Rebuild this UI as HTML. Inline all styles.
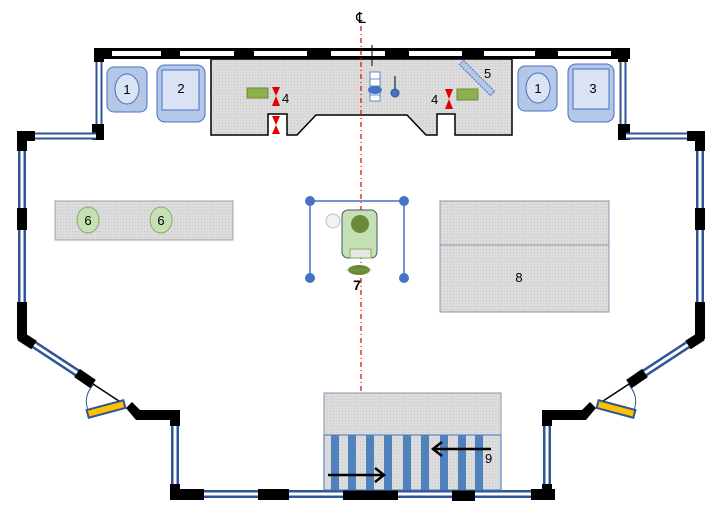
<!DOCTYPE html>
<html><head><meta charset="utf-8"><style>html,body{margin:0;padding:0;background:#fff}svg{display:block}</style></head>
<body>
<svg width="720" height="516" viewBox="0 0 720 516" xmlns="http://www.w3.org/2000/svg" font-family="Liberation Sans, sans-serif">
<defs>
<pattern id="dot" width="3" height="3" patternUnits="userSpaceOnUse"><rect width="3" height="3" fill="#dcdcdc"/><rect width="1" height="1" fill="#c8c8c8"/></pattern>
<g id="side">
  <!-- top-left vertical window -->
  <line x1="99" y1="52" x2="99" y2="132" stroke="#2f5597" stroke-width="7"/>
  <line x1="99" y1="52" x2="99" y2="132" stroke="#fff" stroke-width="3"/>
  <rect x="94" y="48" width="10" height="14" fill="#000"/>
  <rect x="92" y="124" width="12" height="16" fill="#000"/>
  <!-- horizontal window -->
  <line x1="22" y1="136" x2="96" y2="136" stroke="#2f5597" stroke-width="7"/>
  <line x1="22" y1="136" x2="96" y2="136" stroke="#fff" stroke-width="3"/>
  <rect x="17" y="131" width="18" height="10" fill="#000"/>
  <!-- left vertical window -->
  <line x1="22" y1="136" x2="22" y2="338" stroke="#2f5597" stroke-width="8"/>
  <line x1="22" y1="136" x2="22" y2="338" stroke="#fff" stroke-width="3"/>
  <rect x="17" y="131" width="10" height="20" fill="#000"/>
  <rect x="17" y="208" width="10" height="22" fill="#000"/>
  <rect x="17" y="302" width="10" height="37" fill="#000"/>
  <!-- diagonal window -->
  <line x1="24" y1="338" x2="88" y2="380" stroke="#2f5597" stroke-width="8"/>
  <line x1="24" y1="338" x2="88" y2="380" stroke="#fff" stroke-width="3"/>
  <line x1="20" y1="336" x2="34" y2="345" stroke="#000" stroke-width="10"/>
  <line x1="77" y1="373" x2="93" y2="384" stroke="#000" stroke-width="10"/>
  <!-- door -->
  <line x1="93" y1="384" x2="125" y2="405" stroke="#000" stroke-width="1.5"/>
  <path d="M93 385 Q82 398 89 412" fill="none" stroke="#2f5597" stroke-width="1"/>
  <g transform="translate(106 409) rotate(-15)"><rect x="-19" y="-4" width="38" height="8" fill="#ffc000" stroke="#2f5597" stroke-width="2"/></g>
  <path d="M126 408 L132 402 L140 410 L178 410 L178 420 L136 420 Z" fill="#000"/>
  <!-- lower vertical window -->
  <line x1="175" y1="415" x2="175" y2="494" stroke="#2f5597" stroke-width="8"/>
  <line x1="175" y1="415" x2="175" y2="494" stroke="#fff" stroke-width="3"/>
  <rect x="170" y="410" width="10" height="16" fill="#000"/>
  <rect x="170" y="484" width="10" height="16" fill="#000"/>
</g>
</defs>

<!-- top wall -->
<rect x="94" y="48" width="536" height="11" fill="#000"/>
<g fill="#fff">
<rect x="112" y="51" width="49" height="5"/><rect x="180" y="51" width="54" height="5"/>
<rect x="254" y="51" width="53" height="5"/><rect x="331" y="51" width="54" height="5"/>
<rect x="409" y="51" width="53" height="5"/><rect x="484" y="51" width="51" height="5"/>
<rect x="558" y="51" width="53" height="5"/>
</g>
<use href="#side"/>
<use href="#side" transform="translate(722 0) scale(-1 1)"/>

<!-- bottom wall -->
<line x1="178" y1="494" x2="552" y2="494" stroke="#2f5597" stroke-width="8"/>
<line x1="178" y1="494" x2="552" y2="494" stroke="#fff" stroke-width="3"/>
<g fill="#000">
<rect x="170" y="489" width="34" height="11"/><rect x="258" y="489" width="31" height="11"/>
<rect x="343" y="489" width="55" height="11"/><rect x="452" y="489" width="23" height="12"/>
<rect x="531" y="489" width="24" height="11"/>
</g>

<!-- console -->
<path d="M211 59 L512 59 L512 135 L455 135 L455 114 L437 114 L437 135 L426 135 L407 115 L316 115 L297 135 L287 135 L287 114 L268 114 L268 135 L211 135 Z" fill="url(#dot)" stroke="#000" stroke-width="1.5"/>
<!-- left boxes -->
<rect x="107" y="67" width="40" height="45" rx="7" fill="#b4c7e7" stroke="#4472c4" stroke-width="1"/>
<ellipse cx="127" cy="89" rx="12" ry="15" fill="#dae3f3" stroke="#4472c4" stroke-width="1"/>
<text x="127" y="94" font-size="13" text-anchor="middle">1</text>
<rect x="157" y="65" width="48" height="57" rx="8" fill="#b4c7e7" stroke="#4472c4"/>
<rect x="162" y="70" width="37" height="40" fill="#dae3f3" stroke="#4472c4"/>
<text x="181" y="93" font-size="13" text-anchor="middle">2</text>
<rect x="518" y="66" width="39" height="45" rx="7" fill="#b4c7e7" stroke="#4472c4"/>
<ellipse cx="538" cy="88" rx="12" ry="15" fill="#dae3f3" stroke="#4472c4"/>
<text x="538" y="93" font-size="13" text-anchor="middle">1</text>
<rect x="568" y="64" width="46" height="58" rx="8" fill="#b4c7e7" stroke="#4472c4"/>
<rect x="573" y="69" width="36" height="40" fill="#dae3f3" stroke="#4472c4"/>
<text x="593" y="93" font-size="13" text-anchor="middle">3</text>
<!-- 4s -->
<rect x="247" y="88" width="21" height="10" fill="#8db04c" stroke="#6a8a3a"/>
<path d="M272 87 L280 87 L276 96 L280 106 L272 106 L276 96 Z" fill="#e00000"/>
<path d="M272 116 L280 116 L276 125 L280 134 L272 134 L276 125 Z" fill="#e00000"/>
<text x="282" y="103" font-size="13">4</text>
<rect x="457" y="89" width="21" height="11" fill="#8db04c" stroke="#6a8a3a"/>
<path d="M445 89 L453 89 L449 99 L453 109 L445 109 L449 99 Z" fill="#e00000"/>
<text x="431" y="104" font-size="13">4</text>
<!-- 5 -->
<g transform="translate(477 78) rotate(45)"><rect x="-22" y="-3" width="44" height="6" fill="#b4c7e7" stroke="#4472c4" stroke-dasharray="2 1"/></g>
<text x="484" y="78" font-size="13">5</text>
<!-- centre line -->
<line x1="361" y1="26" x2="361" y2="393" stroke="#e00000" stroke-width="1.2" stroke-dasharray="5 3 1 3"/>
<text x="361" y="23" font-size="15" text-anchor="middle">℄</text>
<line x1="372" y1="45" x2="372" y2="66" stroke="#000" stroke-width="1"/>
<rect x="370" y="72" width="10" height="29" fill="#fff" stroke="#4472c4" stroke-width="0.8"/>
<line x1="370" y1="79" x2="380" y2="79" stroke="#4472c4" stroke-width="0.8"/><line x1="370" y1="86" x2="380" y2="86" stroke="#4472c4" stroke-width="0.8"/><line x1="370" y1="95" x2="380" y2="95" stroke="#4472c4" stroke-width="0.8"/>
<ellipse cx="375" cy="90" rx="7" ry="4" fill="#4472c4"/>
<line x1="395" y1="76" x2="395" y2="90" stroke="#000"/>
<circle cx="395" cy="93" r="4" fill="#4472c4" stroke="#2f5597"/>

<!-- 6 -->
<rect x="55" y="201" width="178" height="39" fill="url(#dot)" stroke="#a0a0a0"/>
<ellipse cx="88" cy="220" rx="11" ry="13" fill="#c5e0b4" stroke="#8aa86a"/>
<text x="88" y="225" font-size="13" text-anchor="middle">6</text>
<ellipse cx="161" cy="220" rx="11" ry="13" fill="#c5e0b4" stroke="#8aa86a"/>
<text x="161" y="225" font-size="13" text-anchor="middle">6</text>

<!-- 7 -->
<g stroke="#4472c4" stroke-width="1.5"><line x1="310" y1="201" x2="404" y2="201"/><line x1="310" y1="201" x2="310" y2="278"/><line x1="404" y1="201" x2="404" y2="278"/></g>
<g fill="#4472c4"><circle cx="310" cy="201" r="5"/><circle cx="404" cy="201" r="5"/><circle cx="310" cy="278" r="5"/><circle cx="404" cy="278" r="5"/></g>
<rect x="342" y="210" width="35" height="48" rx="6" fill="#c5e0b4" stroke="#44546a" stroke-width="1"/>
<circle cx="360" cy="224" r="9" fill="#6a8a3a"/>
<rect x="350" y="249" width="21" height="9" fill="#e7e6e6" stroke="#8aa86a"/>
<circle cx="333" cy="221" r="7" fill="#f2f2f2" stroke="#c0c0c0"/>
<ellipse cx="359" cy="270" rx="11" ry="5" fill="#6a8a3a"/>
<line x1="346" y1="270" x2="372" y2="270" stroke="#8aa86a" stroke-width="0.6"/>
<text x="357" y="290" font-size="14" font-weight="bold" text-anchor="middle">7</text>

<!-- 8 -->
<rect x="440" y="201" width="169" height="111" fill="url(#dot)" stroke="#8497b0"/>
<line x1="440" y1="245" x2="609" y2="245" stroke="#8497b0"/>
<text x="519" y="282" font-size="13" text-anchor="middle">8</text>

<!-- 9 -->
<rect x="324" y="393" width="177" height="42" fill="url(#dot)" stroke="#8497b0"/>
<rect x="324" y="435" width="177" height="55" fill="url(#dot)" stroke="#4472c4"/>
<g fill="#4f81bd">
<rect x="331" y="435" width="8" height="55"/><rect x="348" y="435" width="8" height="55"/><rect x="366" y="435" width="8" height="55"/>
<rect x="384" y="435" width="8" height="55"/><rect x="403" y="435" width="8" height="55"/><rect x="421" y="435" width="8" height="55"/>
<rect x="440" y="435" width="8" height="55"/><rect x="458" y="435" width="8" height="55"/><rect x="475" y="435" width="8" height="55"/>
</g>
<g stroke="#000" stroke-width="2.5" fill="none">
<line x1="328" y1="475" x2="384" y2="475"/><polyline points="375,468 384,475 375,482"/>
<line x1="491" y1="449" x2="433" y2="449"/><polyline points="442,442 433,449 442,456"/>
</g>
<text x="485" y="463" font-size="13">9</text>
</svg>
</body></html>
